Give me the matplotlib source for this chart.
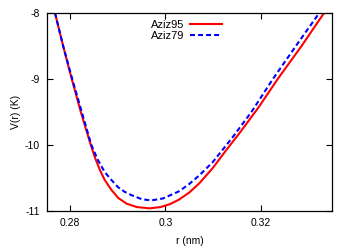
import matplotlib
matplotlib.use("Agg")
import matplotlib.pyplot as plt

plt.rcParams['font.family'] = ['Liberation Sans', 'DejaVu Sans']

r_aziz95 = [0.2769, 0.2786, 0.2804, 0.2823, 0.2842, 0.2852, 0.2863, 0.2873, 0.2887,
            0.2901, 0.2919, 0.2940, 0.2967, 0.2990, 0.3010, 0.3029, 0.3050, 0.3071,
            0.3099, 0.3127, 0.3154, 0.3195, 0.3235, 0.3285, 0.3332]
v_aziz95 = [-8.00, -8.50, -9.00, -9.50, -9.955, -10.18, -10.38, -10.53, -10.68,
            -10.80, -10.89, -10.94, -10.96, -10.94, -10.895, -10.825, -10.72, -10.58,
            -10.35, -10.08, -9.83, -9.43, -9.00, -8.50, -8.00]

r_aziz79 = [0.2769, 0.2786, 0.2805, 0.2825, 0.2845, 0.2859, 0.2873, 0.2887, 0.2901,
            0.2915, 0.2929, 0.2950, 0.2970, 0.2995, 0.3029, 0.3050, 0.3071, 0.3099,
            0.3141, 0.3180, 0.3225, 0.3275, 0.3322]
v_aziz79 = [-8.00, -8.50, -9.00, -9.50, -10.00, -10.23, -10.41, -10.53, -10.64,
            -10.71, -10.76, -10.82, -10.84, -10.81, -10.70, -10.59, -10.46, -10.26,
            -9.88, -9.50, -9.00, -8.48, -8.00]

x_ticks = [0.28, 0.30, 0.32]
x_ticklabels = ["0.28", "0.3", "0.32"]
y_ticks = [-11, -10, -9, -8]
y_ticklabels = ["-11", "-10", "-9", "-8"]

fig = plt.figure(figsize=(3.5, 2.5), dpi=100)
ax = fig.add_axes([0.134, 0.156, 0.815, 0.792])

ax.plot(r_aziz95, v_aziz95, color='#ff0000', lw=1.5, label='Aziz95')
ax.plot(r_aziz79, v_aziz79, color='#0000ff', lw=1.5, dashes=(2.4, 1.45), label='Aziz79')

ax.set_xlim(0.2752, 0.3349)
ax.set_ylim(-11, -8)
ax.set_xticks(x_ticks)
ax.set_xticklabels(x_ticklabels)
ax.set_yticks(y_ticks)
ax.set_yticklabels(y_ticklabels)
ax.tick_params(direction='in', length=4, width=0.8, labelsize=7.5,
               top=True, right=True, pad=5, colors='black')
for s in ax.spines.values():
    s.set_linewidth(0.9)

ax.set_xlabel('r (nm)', fontsize=7.5, labelpad=6)
ax.set_ylabel('V(r) (K)', fontsize=7.5, labelpad=3)

ax.legend(loc='upper center', bbox_to_anchor=(0.49, 1.005), frameon=False,
          markerfirst=False, fontsize=8, handlelength=2.9, handletextpad=0.45,
          labelspacing=0.1, borderpad=0.2)

fig.savefig('out.png', dpi=100)
